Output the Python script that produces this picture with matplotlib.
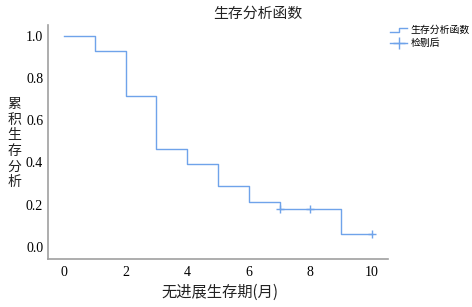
import numpy as np
import matplotlib
matplotlib.use('Agg')
import matplotlib.pyplot as plt
from matplotlib.lines import Line2D
from matplotlib.legend_handler import HandlerBase

# survival curve (months, cumulative survival)
event_times = [0, 1, 2, 3, 4, 5, 6, 7, 9, 10]
survival = [1.0, 0.929, 0.714, 0.464, 0.393, 0.286, 0.214, 0.179, 0.060, 0.060]
censor_times = [7, 8, 10]
censor_surv = [0.179, 0.179, 0.060]
x_ticks = [0, 2, 4, 6, 8, 10]
y_ticks = [0.0, 0.2, 0.4, 0.6, 0.8, 1.0]

line_color = '#6fa3ea'
cjk = ['Noto Sans CJK SC', 'DejaVu Sans']
serif = 'Liberation Serif'


class StepHandler(HandlerBase):
    def create_artists(self, legend, orig_handle, xdescent, ydescent,
                       width, height, fontsize, trans):
        x0, x1 = -xdescent, -xdescent + width
        xm = x0 + width * 0.55
        y0, y1 = -ydescent + height * 0.2, -ydescent + height * 0.75
        ln = Line2D([x0, xm, xm, x1], [y0, y0, y1, y1], color=line_color,
                    lw=1.0, transform=trans)
        return [ln]


fig = plt.figure(figsize=(4.72, 3.07), dpi=100)
ax = fig.add_axes([48 / 472, 1 - 259 / 307, 340 / 472, 234 / 307])

ax.step(event_times, survival, where='post', color=line_color, lw=1.0)
ax.plot(censor_times, censor_surv, ls='none', marker='+', ms=6,
        mew=1.0, color=line_color)

ax.set_xlim(-0.52, 10.52)
ax.set_ylim(-0.057, 1.05)
ax.set_xticks(x_ticks)
ax.set_yticks(y_ticks)
ax.set_xticklabels([str(t) for t in x_ticks], fontfamily=serif, fontsize=10)
ax.set_yticklabels(['%.1f' % t for t in y_ticks], fontfamily=serif, fontsize=10)
ax.tick_params(axis='y', length=0, pad=3.5)
ax.tick_params(axis='x', length=0, pad=5)

for s in ['top', 'right']:
    ax.spines[s].set_visible(False)
for s in ['left', 'bottom']:
    ax.spines[s].set_color('#a0a0a0')
    ax.spines[s].set_linewidth(1.2)

fig.text(258 / 472, 1 - 14 / 307, '生存分析函数', ha='center', va='center',
         fontsize=10.7, family=cjk, color='#222222')
fig.text(220 / 472, 1 - 292 / 307, '无进展生存期(月)', ha='center', va='center',
         fontsize=11, family=cjk, color='#222222')
fig.text(14 / 472, 1 - 143 / 307, '\n'.join('累积生存分析'), ha='center',
         va='center', fontsize=10, family=cjk, color='#222222', linespacing=1.15)

step_handle = Line2D([], [], color=line_color)
censor_handle = Line2D([], [], color=line_color, marker='+', ms=8, lw=1.0)
fig.legend([step_handle, censor_handle], ['生存分析函数', '检剔后'],
           handler_map={step_handle: StepHandler()},
           loc='upper left', bbox_to_anchor=(390 / 472, 1 - 25 / 307),
           frameon=False, prop={'family': cjk, 'size': 7.1},
           handlelength=1.75, handletextpad=0.3, labelspacing=0.3,
           borderpad=0, borderaxespad=0)

fig.savefig('out.png', dpi=100)
